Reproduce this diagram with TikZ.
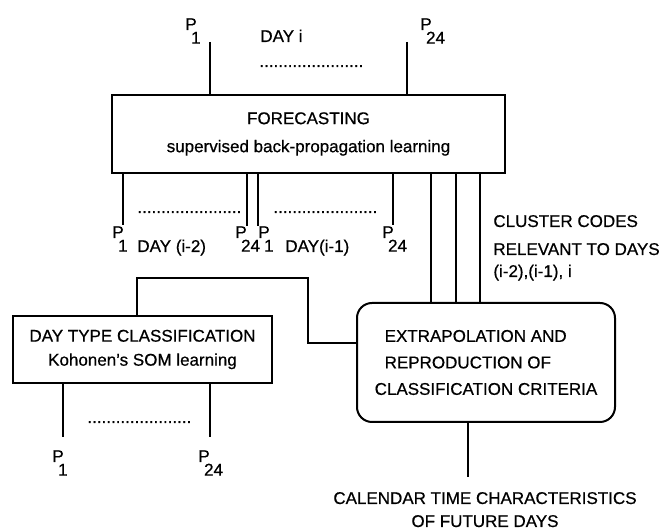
\documentclass[tikz,border=0pt]{standalone}
\usepackage{fontspec}
\setmainfont{Liberation Sans}[FakeBold=0.6]
\usetikzlibrary{positioning}

\newcommand{\pidx}[1]{P\hspace{-0.33em}\raisebox{-0.8em}{#1}}
\newcommand{\dotrow}{......................}

\begin{document}
\begin{tikzpicture}[x=0.5pt, y=0.5pt,
      every node/.style={font=\fontsize{8.5}{12}\selectfont},
      procbox/.style={rectangle, draw, line width=1pt, align=center, inner sep=0pt},
      lbl/.style={inner sep=0pt, anchor=base west},
      wire/.style={line width=1pt}
      ]
      \useasboundingbox (0,0) rectangle (666,530);

      % Nodes
      \node[procbox, minimum width=196.5pt, minimum height=39pt,
            font=\fontsize{8.5}{14}\selectfont] (fc) at (308.5,396)
            {FORECASTING\\supervised back-propagation learning};
      \node[procbox, minimum width=129.5pt, minimum height=33.5pt] (dt) at (142.5,180.5)
            {DAY TYPE CLASSIFICATION\\Kohonen's SOM learning};
      \node[procbox, rounded corners=7.5pt, minimum width=129pt, minimum height=59.5pt,
            align=left, font=\fontsize{8.5}{13.25}\selectfont] (ex) at (486,167.5)
            {\hspace*{5pt}EXTRAPOLATION AND\\\hspace*{5pt}REPRODUCTION OF\\CLASSIFICATION CRITERIA};

      % Labels
      \node[lbl] (tp1l) at (185,500) {\pidx{1}};
      \node[lbl] (tp24l) at (420,500) {\pidx{24}};
      \node[lbl] (dayi) at (260,488) {DAY i};
      \node[lbl] (tdots) at (259,463) {\dotrow};

      \node[lbl] (ba1l) at (112,292) {\pidx{1}};
      \node[lbl] (dayb) at (137,278) {DAY (i-2)};
      \node[lbl] (ba24l) at (235,292) {\pidx{24}};
      \node[lbl] (bb1l) at (258,292) {\pidx{1}};
      \node[lbl] (daya) at (285,278) {DAY(i-1)};
      \node[lbl] (bb24l) at (382,292) {\pidx{24}};
      \node[lbl] (adots) at (137,317) {\dotrow};
      \node[lbl] (bdots) at (273,317) {\dotrow};

      % base of a multi-line node is its last line
      \node[lbl, align=left, font=\fontsize{8.5}{12.5}\selectfont] (codes) at (493,253)
            {CLUSTER CODES\\[1.5pt]RELEVANT TO DAYS\\[-1.5pt](i-2),(i-1), i};

      \node[lbl] (db1l) at (52,68) {\pidx{1}};
      \node[lbl] (db24l) at (198,68) {\pidx{24}};
      \node[lbl] (ddots) at (87,107) {\dotrow};

      \node[inner sep=0pt, anchor=base, align=center, font=\fontsize{8.5}{11.5}\selectfont] (cal) at (485,3)
            {CALENDAR TIME CHARACTERISTICS\\OF FUTURE DAYS};

      % Free ends
      \coordinate (tp1) at (210,488);
      \coordinate (tp24) at (407,488);
      \coordinate (ba1) at (123,305);
      \coordinate (ba24) at (247,304);
      \coordinate (bb1) at (258,304);
      \coordinate (bb24) at (393,305);
      \coordinate (db1) at (63,93);
      \coordinate (db24) at (210,93);
      \coordinate (calend) at (468,53);
      \coordinate (kt) at (137,252);
      \coordinate (kn) at (308,187);

      % Lines
      \draw[wire] (tp1) -- (tp1 |- fc.north);
      \draw[wire] (tp24) -- (tp24 |- fc.north);
      \foreach \c in {ba1,ba24,bb1,bb24}
        \draw[wire] (\c |- fc.south) -- (\c);
      \foreach \i/\x in {1/431,2/456,3/480} {
        \coordinate (cc\i) at (\x,0);
        \draw[wire] (cc\i |- fc.south) -- (cc\i |- ex.north);
      }
      \draw[wire] (kt |- dt.north) -- (kt) -| (kn) -- (kn -| ex.west);
      \draw[wire] (db1 |- dt.south) -- (db1);
      \draw[wire] (db24 |- dt.south) -- (db24);
      \draw[wire] (calend |- ex.south) -- (calend);

    \end{tikzpicture}
\end{document}
